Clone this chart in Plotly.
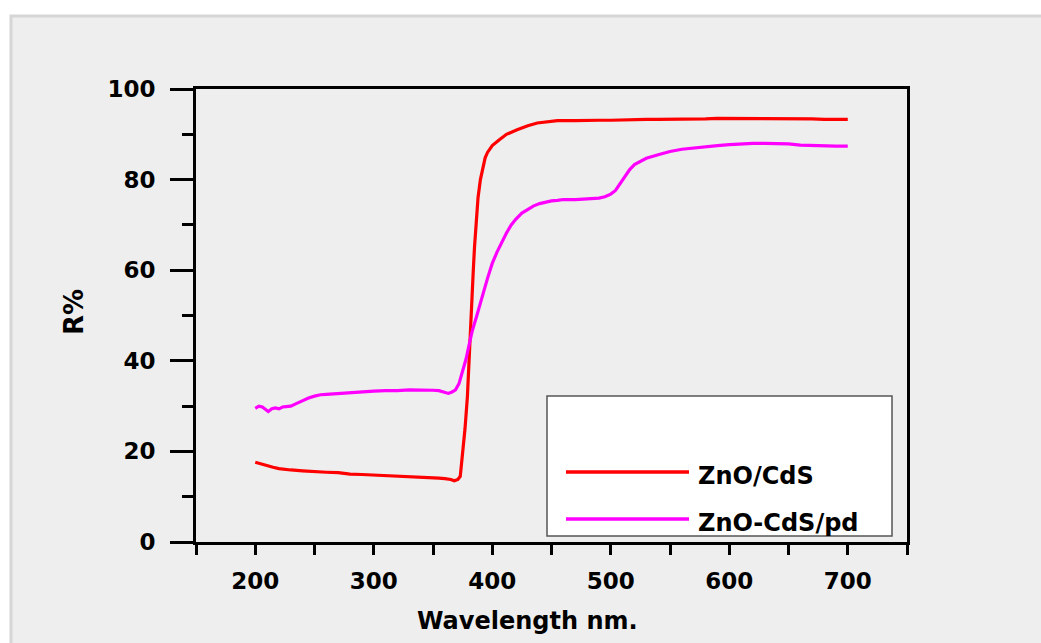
import plotly.graph_objects as go

# ---- data ----
series_names = ["ZnO/CdS", "ZnO-CdS/pd"]
series_colors = ["#ff0000", "#ff00ff"]

wl_red = [200, 205, 210, 215, 220, 225, 230, 240, 250, 260, 270, 280, 290, 300,
          310, 320, 330, 340, 350, 355, 360, 365, 368, 371, 373, 375, 377, 379,
          380, 381, 382, 383, 384, 385, 386, 387, 388, 390, 392, 394, 396, 400,
          406, 412, 421, 430, 438, 446, 455, 470, 480, 490, 500, 510, 520, 530,
          540, 550, 560, 570, 580, 590, 600, 610, 620, 630, 640, 650, 660, 670,
          680, 690, 700]
r_red = [17.6, 17.2, 16.9, 16.5, 16.2, 16.0, 15.9, 15.7, 15.5, 15.4, 15.3, 15.0,
         14.9, 14.8, 14.6, 14.5, 14.4, 14.3, 14.2, 14.1, 14.0, 13.8, 13.5, 13.8,
         14.5, 19.0, 25.0, 32.0, 38.0, 45.0, 51.0, 56.0, 60.0, 65.0, 69.0, 72.5,
         76.0, 80.0, 82.8, 84.8, 86.0, 87.5, 88.8, 90.0, 91.0, 91.9, 92.5, 92.8,
         93.0, 93.0, 93.1, 93.1, 93.1, 93.2, 93.2, 93.3, 93.3, 93.3, 93.4, 93.4,
         93.4, 93.5, 93.5, 93.5, 93.5, 93.5, 93.5, 93.5, 93.4, 93.4, 93.3, 93.3,
         93.3]

wl_mag = [200, 203, 206, 209, 211, 214, 217, 220, 223, 226, 230, 235, 240, 245,
          250, 255, 260, 265, 270, 280, 290, 300, 310, 320, 330, 340, 350, 355,
          360, 363, 366, 369, 372, 375, 378, 380, 383, 387, 390, 393, 396, 400,
          404, 408, 412, 416, 420, 425, 430, 435, 440, 445, 450, 455, 460, 470,
          480, 490, 495, 500, 504, 508, 512, 516, 520, 525, 530, 540, 550, 560,
          570, 580, 590, 600, 610, 620, 630, 640, 650, 660, 670, 680, 690, 700]
r_mag = [29.5, 30.0, 29.8, 29.2, 28.8, 29.4, 29.6, 29.4, 29.8, 29.9, 30.0, 30.6,
         31.2, 31.8, 32.2, 32.5, 32.6, 32.7, 32.8, 33.0, 33.1, 33.3, 33.4, 33.4,
         33.6, 33.6, 33.5, 33.4, 33.0, 32.8, 33.1, 33.6, 35.0, 37.5, 40.5, 43.0,
         46.5, 50.0, 52.5, 55.5, 58.2, 61.5, 64.0, 66.2, 68.2, 70.0, 71.3, 72.6,
         73.5, 74.2, 74.7, 75.0, 75.3, 75.4, 75.6, 75.6, 75.7, 75.9, 76.2, 76.8,
         77.6, 79.2, 80.8, 82.2, 83.3, 84.1, 84.7, 85.5, 86.2, 86.7, 87.0, 87.3,
         87.5, 87.7, 87.9, 88.0, 88.0, 88.0, 87.9, 87.6, 87.5, 87.4, 87.4, 87.4]

x_tickvals = [200, 300, 400, 500, 600, 700]
y_tickvals = [0, 20, 40, 60, 80, 100]
x_title = "Wavelength nm."
y_title = "R%"

FONT = "DejaVu Sans"

fig = go.Figure()
fig.add_trace(go.Scatter(x=wl_red, y=r_red, mode="lines", name=series_names[0],
                         line=dict(color=series_colors[0], width=3.2)))
fig.add_trace(go.Scatter(x=wl_mag, y=r_mag, mode="lines", name=series_names[1],
                         line=dict(color=series_colors[1], width=3.2)))

W, H = 1041, 643
L, R, T, B = 196, 907, 89, 542


def px(xp):
    return (xp - L) / (R - L)


def py(yp):
    return (B - yp) / (B - T)


shapes = [
    # grey panel with shadowed edge
    dict(type="rect", xref="paper", yref="paper", layer="below",
         x0=px(11), x1=px(1060), y0=py(660), y1=py(16),
         fillcolor="#eeeeee", line=dict(color="#d6d6d6", width=3)),
    # legend box
    dict(type="rect", xref="paper", yref="paper",
         x0=px(547), x1=px(892), y0=py(536), y1=py(396),
         fillcolor="white", line=dict(color="#555555", width=1.5)),
    dict(type="line", xref="paper", yref="paper",
         x0=px(566), x1=px(689), y0=py(472), y1=py(472),
         line=dict(color=series_colors[0], width=3.5)),
    dict(type="line", xref="paper", yref="paper",
         x0=px(566), x1=px(689), y0=py(519), y1=py(519),
         line=dict(color=series_colors[1], width=3.5)),
]

annotations = [
    dict(text=series_names[0], xref="paper", yref="paper", x=px(696), y=py(476),
         xanchor="left", yanchor="middle", showarrow=False,
         font=dict(family=FONT, size=24, color="black", weight="bold")),
    dict(text=series_names[1], xref="paper", yref="paper", x=px(696), y=py(523),
         xanchor="left", yanchor="middle", showarrow=False,
         font=dict(family=FONT, size=24, color="black", weight="bold")),
    dict(text=x_title, xref="paper", yref="paper", x=px(527), y=py(621),
         xanchor="center", yanchor="middle", showarrow=False,
         font=dict(family=FONT, size=24, color="black", weight="bold")),
    dict(text=y_title, xref="paper", yref="paper", x=px(74), y=py(312),
         xanchor="center", yanchor="middle", showarrow=False, textangle=-90,
         font=dict(family=FONT, size=26, color="black", weight="bold")),
]

fig.update_layout(
    width=W, height=H,
    margin=dict(l=L, r=W - R, t=T, b=H - B),
    paper_bgcolor="white",
    plot_bgcolor="#eeeeee",
    showlegend=False,
    shapes=shapes,
    annotations=annotations,
    font=dict(family=FONT, color="black"),
)

fig.update_xaxes(
    range=[150, 750], tickmode="array", tickvals=x_tickvals,
    ticks="outside", ticklen=10, tickwidth=3, tickcolor="black",
    showline=True, linewidth=3, linecolor="black", mirror=True,
    showgrid=False, zeroline=False,
    tickfont=dict(family=FONT, size=23, color="black", weight="bold"),
    ticklabelstandoff=6,
    minor=dict(tickmode="array", tickvals=[150, 250, 350, 450, 550, 650, 750],
               ticks="outside", ticklen=10, tickwidth=3, tickcolor="black",
               showgrid=False),
)
fig.update_yaxes(
    range=[0, 100], tickmode="array", tickvals=y_tickvals,
    ticks="outside", ticklen=23, tickwidth=3, tickcolor="black",
    showline=True, linewidth=3, linecolor="black", mirror=True,
    showgrid=False, zeroline=False,
    tickfont=dict(family=FONT, size=23, color="black", weight="bold"),
    ticklabelstandoff=10,
    minor=dict(tickmode="array", tickvals=[10, 30, 50, 70, 90],
               ticks="outside", ticklen=11, tickwidth=3, tickcolor="black",
               showgrid=False),
)

fig.write_html("out.html")
